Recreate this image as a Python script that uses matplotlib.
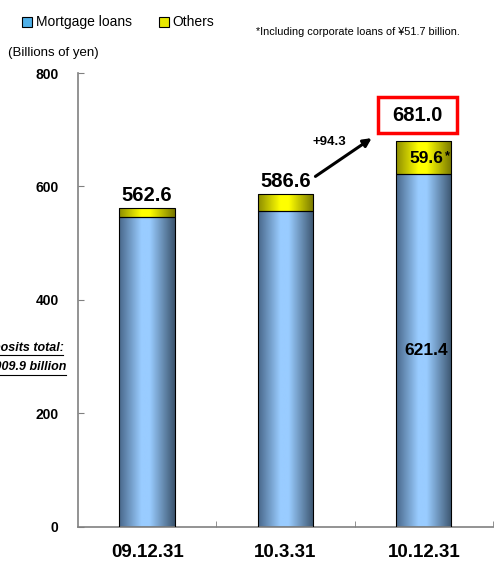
import numpy as np
import matplotlib.pyplot as plt
from matplotlib.colors import LinearSegmentedColormap
from matplotlib.lines import Line2D
from matplotlib.patches import Rectangle

plt.rcParams['font.family'] = ['Liberation Sans', 'DejaVu Sans']

categories = ['09.12.31', '10.3.31', '10.12.31']
mortgage = [545.7, 556.0, 621.4]
others = [16.9, 30.6, 59.6]
totals = [562.6, 586.6, 681.0]
increase = '+94.3'

blue_cm = LinearSegmentedColormap.from_list(
    'blue', [(0, '#48678a'), (0.4, '#99ccff'), (0.55, '#99ccff'), (1, '#3b546e')])
yellow_cm = LinearSegmentedColormap.from_list(
    'yellow', [(0, '#8c8c00'), (0.4, '#ffff00'), (0.55, '#ffff00'), (1, '#767600')])

fig = plt.figure(figsize=(5.03, 5.66), dpi=100)
ax = fig.add_axes([0.155, 0.069, 0.825, 0.802])

x = np.arange(len(categories))
w = 0.40
grad = np.linspace(0, 1, 256).reshape(1, -1)


def grad_bars(bottom, height, cmap):
    bars = ax.bar(x, height, w, bottom=bottom, color='none', edgecolor='black', lw=0.8, zorder=3)
    for b in bars:
        im = ax.imshow(grad, cmap=cmap, aspect='auto', zorder=2,
                       extent=(b.get_x(), b.get_x() + b.get_width(),
                               b.get_y(), b.get_y() + b.get_height()))
        im.set_clip_path(b)
    return bars


grad_bars(0, mortgage, blue_cm)
grad_bars(mortgage, others, yellow_cm)

ax.set_xlim(-0.5, 2.5)
ax.set_ylim(0, 800)
for s in ['top', 'right']:
    ax.spines[s].set_visible(False)
for s in ['left', 'bottom']:
    ax.spines[s].set_color('#808080')
    ax.spines[s].set_linewidth(1.2)

ax.set_yticks(np.arange(0, 801, 200))
ax.tick_params(axis='y', direction='in', length=4, color='#808080', pad=14, labelsize=10)
for t in ax.get_yticklabels():
    t.set_fontweight('bold')
ax.set_xticks(x)
ax.set_xticklabels(categories, fontsize=13.5, fontweight='bold')
ax.tick_params(axis='x', length=0, pad=12)
ax.set_xticks([0.5, 1.5, 2.5], minor=True)
ax.tick_params(axis='x', which='minor', direction='in', length=4, color='#808080')

# totals
for i in range(2):
    ax.text(x[i], totals[i] + 5, f'{totals[i]:.1f}', ha='center', va='bottom',
            fontsize=14.5, fontweight='bold')
ax.text(x[2] - 0.045, 726, f'{totals[2]:.1f}', ha='center', va='center', fontsize=14.5,
        fontweight='bold', zorder=6)
# red highlight box around the latest total
ax.add_patch(Rectangle((x[2] - 0.33, 694), 0.57, 64, fc='white', ec='#ff0000', lw=2.5,
                       zorder=5, clip_on=False))

ax.text(x[2] + 0.02, mortgage[2] + others[2] / 2 - 2, f'{others[2]:.1f}', ha='center', va='center',
        fontsize=12.5, fontweight='bold', zorder=5)
ax.text(x[2] + 0.17, mortgage[2] + others[2] / 2 + 3, '*', ha='center', va='center',
        fontsize=9, fontweight='bold', zorder=5)
ax.text(x[2] + 0.02, 311, f'{mortgage[2]:.1f}', ha='center', va='center', fontsize=12.5,
        fontweight='bold', zorder=5)

ax.annotate('', xy=(1.64, 688), xytext=(1.2, 615),
            arrowprops=dict(arrowstyle='-|>', lw=2.2, color='black', mutation_scale=12))
ax.text(1.32, 678, increase, ha='center', va='center', fontsize=9.5, fontweight='bold')

# header texts
fig.text(0.016, 0.906, '(Billions of yen)', fontsize=9.5, va='center')
fig.text(0.508, 0.944, '*Including corporate loans of \u00a551.7 billion.', fontsize=7.8, va='center')
fig.patches.append(Rectangle((0.044, 0.952), 0.019, 0.018, transform=fig.transFigure,
                             fc='#4fb0e8', ec='black', lw=0.8))
fig.text(0.071, 0.962, 'Mortgage loans', fontsize=10, va='center')
fig.patches.append(Rectangle((0.317, 0.952), 0.018, 0.018, transform=fig.transFigure,
                             fc='#e8e800', ec='black', lw=0.8))
fig.text(0.343, 0.962, 'Others', fontsize=10, va='center')

# cut-off deposits note on the left
fig.text(0.126, 0.386, 'Deposits total:', fontsize=9, fontweight='bold', style='italic',
         ha='right', va='center')
fig.text(0.132, 0.351, '\u00a51,009.9 billion', fontsize=9, fontweight='bold', style='italic',
         ha='right', va='center')
fig.lines.append(Line2D([0, 0.126], [0.372, 0.372], transform=fig.transFigure, color='black', lw=0.8))
fig.lines.append(Line2D([0, 0.132], [0.337, 0.337], transform=fig.transFigure, color='black', lw=0.8))

fig.savefig('out.png', dpi=100)
